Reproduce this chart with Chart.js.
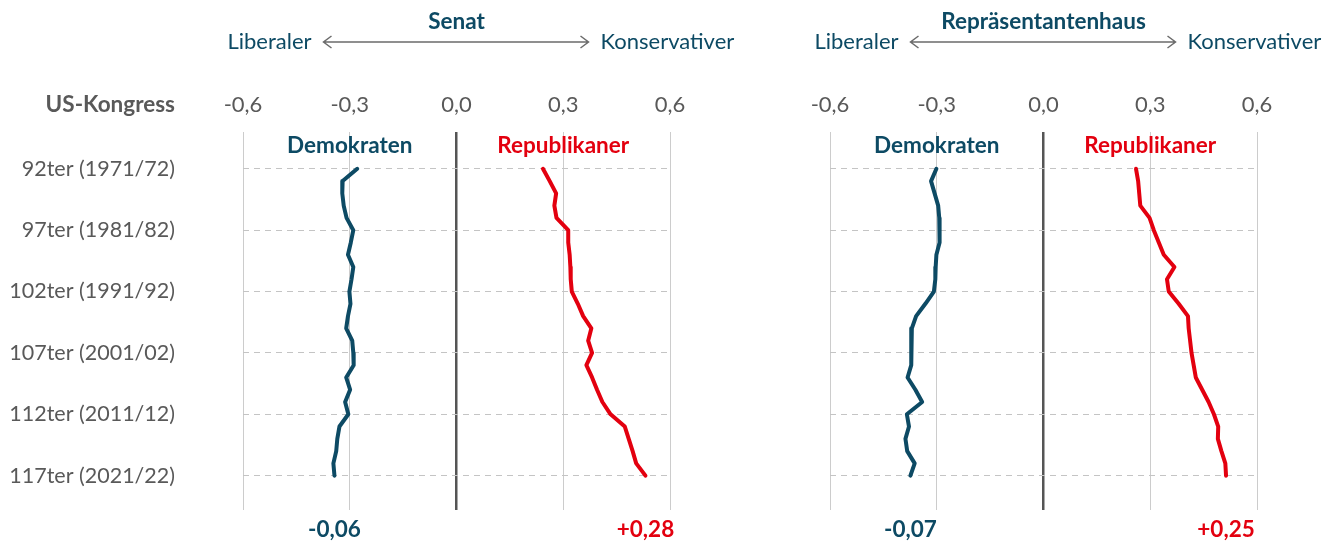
<!DOCTYPE html>
<html>
<head>
<meta charset="utf-8">
<script src="https://cdn.jsdelivr.net/npm/chart.js@4/dist/chart.umd.min.js"></script>
<style>
  body { margin: 0; background: #fff; }
  #wrap { position: relative; width: 1337px; height: 544px; }
  canvas { position: absolute; top: 0; left: 0; }
</style>
</head>
<body>
<div id="wrap">
  <canvas id="senat" width="1337" height="544"></canvas>
  <canvas id="haus" width="1337" height="544"></canvas>
</div>
<script>
// Kongresse 92 bis 117
const congresses = [92, 93, 94, 95, 96, 97, 98, 99, 100, 101, 102, 103, 104, 105, 106, 107, 108, 109, 110, 111, 112, 113, 114, 115, 116, 117];
const yTickValues = [92, 97, 102, 107, 112, 117];
const yTickLabels = ['92ter (1971/72)', '97ter (1981/82)', '102ter (1991/92)', '107ter (2001/02)', '112ter (2011/12)', '117ter (2021/22)'];
const xTickValues = [-0.6, -0.3, 0, 0.3, 0.6];

// Senat
const senateDem = [-0.279, -0.320, -0.321, -0.317, -0.309, -0.290, -0.297, -0.305, -0.290, -0.295, -0.301, -0.298, -0.305, -0.310, -0.293, -0.290, -0.289, -0.310, -0.299, -0.313, -0.304, -0.329, -0.335, -0.338, -0.346, -0.343];
const senateRep = [0.243, 0.262, 0.280, 0.275, 0.281, 0.314, 0.314, 0.318, 0.320, 0.321, 0.324, 0.341, 0.356, 0.379, 0.370, 0.381, 0.365, 0.381, 0.395, 0.410, 0.433, 0.473, 0.484, 0.495, 0.505, 0.531];
// Repräsentantenhaus
const houseDem = [-0.301, -0.316, -0.306, -0.296, -0.293, -0.292, -0.292, -0.301, -0.303, -0.304, -0.308, -0.332, -0.358, -0.370, -0.371, -0.372, -0.372, -0.382, -0.360, -0.341, -0.384, -0.378, -0.388, -0.383, -0.362, -0.374];
const houseRep = [0.260, 0.266, 0.269, 0.272, 0.298, 0.310, 0.324, 0.338, 0.368, 0.347, 0.352, 0.380, 0.406, 0.408, 0.412, 0.416, 0.422, 0.428, 0.446, 0.464, 0.479, 0.491, 0.490, 0.500, 0.511, 0.513];

const senateChange = ['-0,06', '+0,28'];
const houseChange = ['-0,07', '+0,25'];

const DEM = '#0d4a64';
const REP = '#e3000f';
const GREY = '#595959';
const FONT = 'Lato';

function points(values) {
    return values.map((v, i) => ({ x: v, y: congresses[i] }));
}

function drawArrow(ctx, x1, x2, y) {
    ctx.save();
    ctx.strokeStyle = '#6b6b6b';
    ctx.lineWidth = 1.5;
    ctx.beginPath();
    ctx.moveTo(x1, y); ctx.lineTo(x2, y);
    ctx.moveTo(x1 + 8, y - 6); ctx.lineTo(x1, y); ctx.lineTo(x1 + 8, y + 6);
    ctx.moveTo(x2 - 8, y - 6); ctx.lineTo(x2, y); ctx.lineTo(x2 - 8, y + 6);
    ctx.stroke();
    ctx.restore();
}

function makeChart(id, title, dem, rep, changes, opts) {
    const decor = {
        id: 'decor',
        afterDraw(chart) {
            const ctx = chart.ctx;
            const x = chart.scales.x;
            const y = chart.scales.y;
            const mid = x.getPixelForValue(0);
            ctx.save();
            ctx.textBaseline = 'middle';
            // Titel
            ctx.fillStyle = DEM;
            ctx.textAlign = 'center';
            ctx.font = 'bold 22.5px ' + FONT;
            ctx.fillText(title, mid, 22);
            ctx.font = '22px ' + FONT;
            ctx.textAlign = 'right';
            ctx.fillText('Liberaler', mid - 145, 42);
            ctx.textAlign = 'left';
            ctx.fillText('Konservativer', mid + 144, 42);
            drawArrow(ctx, mid - 133, mid + 132, 42);
            // Parteien
            ctx.font = 'bold 22.5px ' + FONT;
            ctx.textAlign = 'center';
            ctx.fillStyle = DEM;
            ctx.fillText('Demokraten', x.getPixelForValue(-0.3), 146);
            ctx.fillStyle = REP;
            ctx.fillText('Republikaner', x.getPixelForValue(0.3), 146);
            // Veränderung
            ctx.fillStyle = DEM;
            ctx.fillText(changes[0], x.getPixelForValue(dem[dem.length - 1]), 530);
            ctx.fillStyle = REP;
            ctx.fillText(changes[1], x.getPixelForValue(rep[rep.length - 1]), 530);
            if (opts.showY) {
                ctx.fillStyle = GREY;
                ctx.textAlign = 'right';
                ctx.fillText('US-Kongress', 175, 105);
                ctx.font = '21.5px ' + FONT;
                yTickValues.forEach((v, i) => {
                    ctx.fillText(yTickLabels[i], 175, y.getPixelForValue(v));
                });
            }
            ctx.restore();
        }
    };

    return new Chart(document.getElementById(id), {
        type: 'scatter',
        data: {
            datasets: [
                { data: points(dem), borderColor: DEM },
                { data: points(rep), borderColor: REP }
            ]
        },
        options: {
            responsive: false,
            animation: false,
            showLine: true,
            elements: {
                point: { radius: 0 },
                line: { borderWidth: 4, tension: 0, borderJoinStyle: 'round', borderCapStyle: 'round' }
            },
            layout: { padding: { left: 0, top: 0, right: opts.right, bottom: 34 } },
            plugins: { legend: { display: false }, tooltip: { enabled: false } },
            scales: {
                x: {
                    type: 'linear',
                    position: 'top',
                    min: -0.6,
                    max: 0.6,
                    afterBuildTicks: s => { s.ticks = xTickValues.map(v => ({ value: v })); },
                    afterFit: s => { s.height = 132; },
                    border: { display: false },
                    grid: {
                        drawTicks: false,
                        color: c => c.tick && c.tick.value === 0 ? '#555555' : '#cccccc',
                        lineWidth: c => c.tick && c.tick.value === 0 ? 2.5 : 1
                    },
                    ticks: {
                        padding: 14,
                        color: GREY,
                        font: { family: FONT, size: 22 },
                        callback: v => v.toFixed(1).replace('.', ',')
                    }
                },
                y: {
                    type: 'linear',
                    reverse: true,
                    min: 89,
                    max: 119.8,
                    afterBuildTicks: s => { s.ticks = yTickValues.map(v => ({ value: v })); },
                    afterFit: s => { s.width = opts.yWidth; },
                    border: { display: false, dash: [6, 5] },
                    grid: { drawTicks: false, color: '#c4c4c4', lineWidth: 1 },
                    ticks: { display: false }
                }
            }
        },
        plugins: [decor]
    });
}

makeChart('senat', 'Senat', senateDem, senateRep, senateChange, { showY: true, yWidth: 243, right: 667 });
makeChart('haus', 'Repräsentantenhaus', houseDem, houseRep, houseChange, { showY: false, yWidth: 830, right: 80 });
</script>
</body>
</html>
